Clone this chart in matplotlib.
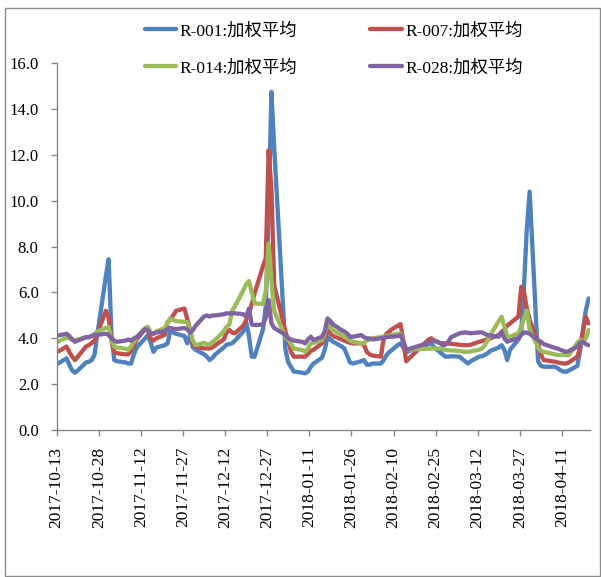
import matplotlib
matplotlib.use("Agg")
import matplotlib.pyplot as plt
import matplotlib.dates as mdates
from matplotlib.patches import Rectangle
import pandas as pd
import numpy as np

plt.rcParams["font.family"] = ["Liberation Serif", "Noto Sans CJK SC"]

# Interbank trading calendar, 2017-10-13 .. 2018-04-20
START, END = "2017-10-13", "2018-04-20"
HOLIDAYS = ["2018-01-01", "2018-02-15", "2018-02-16", "2018-02-19",
            "2018-02-20", "2018-02-21", "2018-04-05", "2018-04-06"]
MAKEUP_DAYS = ["2018-02-11", "2018-02-24", "2018-04-08"]

series_names = ["R-001:加权平均", "R-007:加权平均", "R-014:加权平均", "R-028:加权平均"]
series_colors = ["#4F81BD", "#C0504D", "#9BBB59", "#8064A2"]

r001 = [
    # Oct
    2.90, 3.13, 2.85, 2.60, 2.50, 2.60, 2.95, 2.98, 3.05, 3.30, 4.20, 6.70, 7.45,
    # Nov
    4.20, 3.05, 3.00, 2.95, 2.90, 2.90, 3.30, 3.60, 4.00, 4.15, 3.80, 3.41, 3.60,
    3.70, 3.78, 4.35, 4.25, 4.20, 4.10, 3.78, 4.15, 3.60,
    # Dec
    3.50, 3.30, 3.20, 3.05, 3.15, 3.30, 3.60, 3.72, 3.75, 3.78, 3.90, 4.30, 4.70,
    4.10, 3.20, 3.20, 4.40, 5.40, 9.50, 14.75, 12.30,
    # Jan
    3.50, 2.95, 2.75, 2.55, 2.50, 2.47, 2.55, 2.75, 2.90, 3.15, 3.50, 4.05, 3.95,
    3.85, 3.65, 3.55, 3.25, 2.95, 2.90, 3.00, 3.05, 2.85,
    # Feb
    2.85, 2.90, 2.90, 3.05, 3.27, 3.40, 3.50, 3.70, 3.78, 3.60, 3.40, 3.75, 3.78,
    3.60, 3.40, 3.30, 3.20,
    # Mar
    3.20, 3.22, 3.20, 3.10, 3.00, 2.90, 3.00, 3.20, 3.22, 3.27, 3.35, 3.45, 3.60,
    3.70, 3.50, 3.05, 3.50, 3.95, 4.30, 6.30, 8.80, 10.40,
    # Apr
    3.00, 2.80, 2.76, 2.76, 2.70, 2.60, 2.55, 2.54, 2.60, 2.80, 3.50, 4.40, 5.20, 5.74,
]

r007 = [
    # Oct
    3.42, 3.64, 3.40, 3.20, 3.05, 3.20, 3.65, 3.70, 3.80, 3.90, 4.20, 5.20, 4.90,
    # Nov
    3.90, 3.40, 3.35, 3.30, 3.30, 3.45, 3.70, 3.95, 4.40, 4.35, 4.00, 3.90, 4.00,
    4.15, 4.70, 4.85, 5.00, 5.20, 5.30, 4.85, 4.40, 3.75,
    # Dec
    3.63, 3.56, 3.56, 3.56, 3.60, 3.70, 3.95, 4.25, 4.36, 4.25, 4.22, 4.55, 4.80,
    5.10, 5.50, 5.96, 7.15, 7.50, 12.20, 10.50, 6.30,
    # Jan
    4.30, 3.90, 3.40, 3.20, 3.20, 3.20, 3.30, 3.45, 3.50, 3.78, 4.00, 4.36, 4.20,
    4.10, 3.95, 3.90, 3.85, 3.80, 3.78, 3.78, 3.70, 3.40,
    # Feb
    3.30, 3.25, 3.20, 4.00, 4.20, 4.30, 4.40, 4.55, 4.62, 3.90, 3.00, 3.95, 4.00,
    3.90, 3.80, 3.78, 3.78,
    # Mar
    3.78, 3.76, 3.72, 3.70, 3.70, 3.70, 3.72, 3.85, 3.88, 3.92, 3.96, 4.00, 4.15,
    4.25, 4.40, 4.55, 4.65, 4.95, 6.25, 6.00, 5.30, 4.80,
    # Apr
    3.80, 3.30, 3.05, 2.98, 2.95, 2.92, 2.90, 2.90, 2.95, 3.20, 3.60, 4.30, 4.94, 4.65,
]

r014 = [
    # Oct
    3.85, 4.03, 4.00, 3.95, 3.92, 3.95, 4.05, 4.05, 4.10, 4.20, 4.30, 4.45, 4.50,
    # Nov
    3.90, 3.64, 3.60, 3.55, 3.50, 3.65, 3.85, 4.05, 4.45, 4.50, 4.25, 4.20, 4.30,
    4.45, 4.65, 4.87, 4.80, 4.75, 4.72, 4.70, 4.35, 3.90,
    # Dec
    3.70, 3.80, 3.75, 3.72, 3.85, 3.93, 4.30, 4.50, 4.60, 5.20, 5.40, 6.10, 6.35,
    6.50, 6.00, 5.52, 5.50, 6.10, 8.14, 6.50, 5.20,
    # Jan
    4.05, 3.95, 3.75, 3.55, 3.49, 3.41, 3.55, 3.78, 3.80, 3.92, 4.20, 4.65, 4.50,
    4.35, 4.15, 4.07, 4.00, 3.90, 3.85, 3.78, 3.80, 3.90,
    # Feb
    3.95, 4.00, 4.05, 4.07, 4.10, 4.12, 4.15, 4.20, 4.20, 3.90, 3.50, 3.55, 3.56,
    3.56, 3.55, 3.52, 3.50,
    # Mar
    3.48, 3.47, 3.45, 3.43, 3.41, 3.41, 3.43, 3.50, 3.56, 3.70, 3.90, 4.15, 4.75,
    4.94, 4.50, 4.10, 4.07, 4.22, 4.50, 4.87, 5.20, 4.40,
    # Apr
    3.60, 3.45, 3.41, 3.30, 3.27, 3.27, 3.27, 3.27, 3.27, 3.80, 3.93, 3.80, 4.00, 4.36,
]

r028 = [
    # Oct
    4.12, 4.20, 4.10, 3.95, 3.85, 3.90, 4.05, 4.05, 4.10, 4.15, 4.15, 4.20, 4.15,
    # Nov
    4.00, 3.90, 3.85, 3.90, 3.95, 3.90, 4.00, 4.05, 4.40, 4.35, 4.20, 4.20, 4.25,
    4.30, 4.43, 4.45, 4.42, 4.40, 4.45, 4.40, 4.25, 4.35,
    # Dec
    4.55, 4.95, 5.00, 4.95, 5.00, 5.00, 5.05, 5.09, 5.09, 5.09, 5.09, 5.05, 4.95,
    5.30, 4.60, 4.58, 4.60, 4.90, 5.67, 4.65, 4.45,
    # Jan
    4.15, 4.00, 3.95, 3.90, 3.85, 3.78, 3.95, 4.07, 3.92, 4.07, 4.30, 4.87, 4.75,
    4.60, 4.36, 4.30, 4.20, 4.07, 4.07, 4.14, 4.05, 4.00,
    # Feb
    4.00, 3.95, 4.00, 4.02, 4.05, 4.07, 4.07, 4.10, 4.14, 3.85, 3.50, 3.80, 3.85,
    3.90, 3.80, 3.70, 3.72,
    # Mar
    3.85, 4.05, 4.22, 4.24, 4.26, 4.24, 4.22, 4.26, 4.26, 4.20, 4.14, 4.12, 4.07,
    4.29, 4.00, 3.85, 3.90, 4.00, 4.15, 4.25, 4.25, 4.20,
    # Apr
    3.92, 3.85, 3.75, 3.58, 3.55, 3.50, 3.45, 3.41, 3.45, 3.63, 3.80, 3.85, 3.75, 3.70,
]

y_ticks = [0, 2, 4, 6, 8, 10, 12, 14, 16]
tick_step_days = 15

# trading days: weekdays minus holidays, plus make-up weekend sessions
days = pd.bdate_range(START, END)
days = days.difference(pd.to_datetime(HOLIDAYS)).union(pd.to_datetime(MAKEUP_DAYS))

# each day occupies one slot on the date axis; points sit in the slot centre
x = mdates.date2num(days.to_pydatetime()) + 0.5

fig = plt.figure(figsize=(6.01, 5.77), dpi=100)
W, H = 601, 577
ax = fig.add_axes([56.7 / W, 1 - 430 / H, (590 - 56.7) / W, (430 - 63.3) / H])

lines = []
for name, vals, col in zip(series_names, [r001, r007, r014, r028], series_colors):
    ln, = ax.plot(x, vals, color=col, lw=3.1, label=name, solid_joinstyle="round",
                  solid_capstyle="round")
    lines.append(ln)

x0 = mdates.date2num(pd.Timestamp(START).to_pydatetime())
x1 = mdates.date2num((pd.Timestamp(END) + pd.Timedelta(days=1)).to_pydatetime())
ax.set_xlim(x0, x1)
ax.set_ylim(0, 16)

tick_dates = pd.date_range(START, END, freq=f"{tick_step_days}D")
ax.set_xticks(mdates.date2num(tick_dates.to_pydatetime()))
ax.set_xticklabels([d.strftime("%Y-%m-%d") for d in tick_dates], rotation=90,
                   fontsize=12.5)
ax.set_yticks(y_ticks)
ax.set_yticklabels([f"{v:.1f}" for v in y_ticks], fontsize=12)

for side in ("top", "right"):
    ax.spines[side].set_visible(False)
for side in ("left", "bottom"):
    ax.spines[side].set_color("#868686")
    ax.spines[side].set_linewidth(1.0)
ax.tick_params(axis="both", direction="out", length=4, width=1.0, color="#868686")
ax.tick_params(axis="x", pad=8)
ax.tick_params(axis="y", pad=9)

# two rows: 001 | 007 on top, 014 | 028 below
order = [0, 2, 1, 3]
fig.legend([lines[i] for i in order], [series_names[i] for i in order],
           loc="upper left", bbox_to_anchor=(145 / W, 1 - 23 / H), ncol=2,
           frameon=False, fontsize=12.5, handlelength=1.8, handletextpad=0.2,
           columnspacing=4.2, labelspacing=1.17, borderpad=0, borderaxespad=0)

fig.patches.append(Rectangle((4.5 / W, 1.5 / H), (600 - 4.5) / W, (576 - 8.5) / H,
                             transform=fig.transFigure, fill=False,
                             edgecolor="#8c8c8c", lw=1.0))

fig.savefig("out.png", dpi=100)
